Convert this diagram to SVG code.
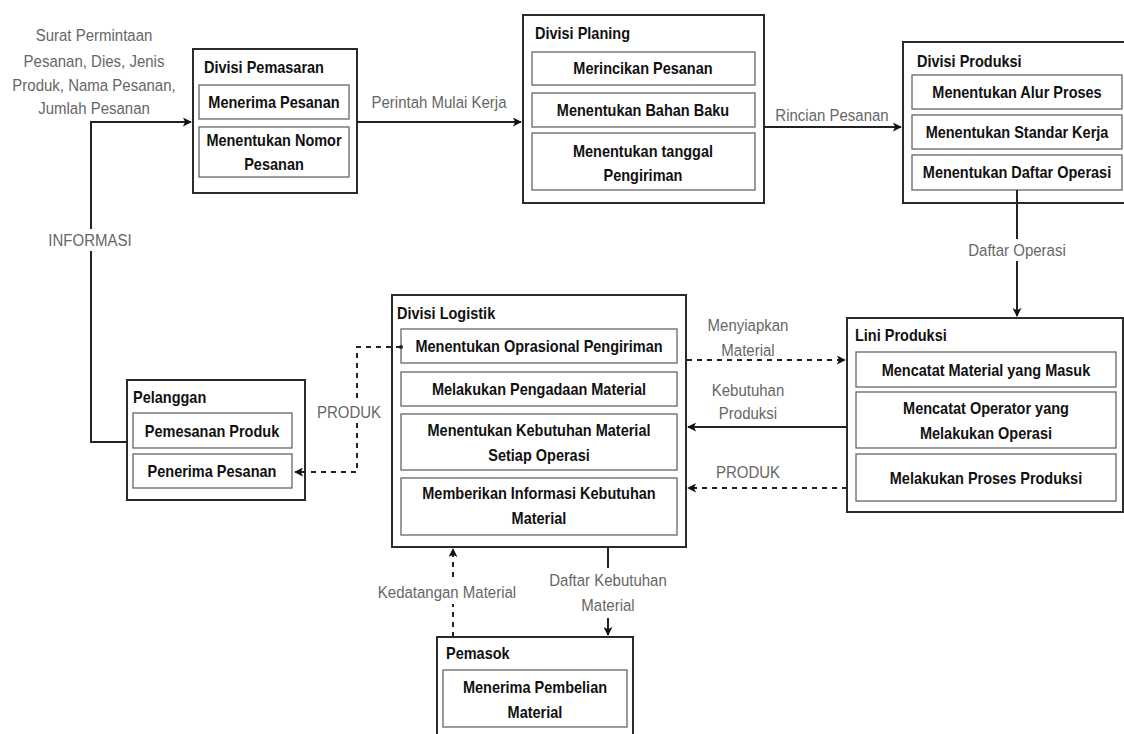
<svg xmlns="http://www.w3.org/2000/svg" width="1124" height="734" viewBox="0 0 1124 734">
<defs>
<marker id="arr" viewBox="0 0 10 10" refX="9" refY="5" markerWidth="9" markerHeight="9" markerUnits="userSpaceOnUse" orient="auto">
<path d="M0,0 L10,5 L0,10 L2.5,5 Z" fill="#111"/>
</marker>
<style>
text{font-family:"Liberation Sans",Arial,sans-serif;dominant-baseline:central;transform-box:fill-box;transform-origin:center;transform:scaleY(1.15)}
.outer{fill:#fff;stroke:#2b2b2b;stroke-width:2}
.inner{fill:#fff;stroke:#666;stroke-width:1.3}
.title{font-size:14.5px;font-weight:bold;fill:#111}
.item{font-size:14.5px;font-weight:bold;fill:#111;text-anchor:middle}
.lbl{font-size:15px;fill:#666;text-anchor:middle}
.line{fill:none;stroke:#222;stroke-width:2}
.dash{fill:none;stroke:#222;stroke-width:2;stroke-dasharray:5 5}
.bg{fill:#fff}
</style>
</defs>

<g id="divisi-pemasaran">
<rect class="outer" x="193" y="49" width="164" height="144"/>
<text class="title" x="204" y="67">Divisi Pemasaran</text>
<rect class="inner" x="199" y="85" width="150" height="34"/>
<text class="item" x="274" y="102">Menerima Pesanan</text>
<rect class="inner" x="199" y="127" width="150" height="50"/>
<text class="item" x="274" y="140">Menentukan Nomor</text>
<text class="item" x="274" y="164">Pesanan</text>
</g>

<g id="divisi-planing">
<rect class="outer" x="523" y="15" width="241" height="188"/>
<text class="title" x="535" y="33">Divisi Planing</text>
<rect class="inner" x="532" y="52" width="223" height="33"/>
<text class="item" x="643" y="68">Merincikan Pesanan</text>
<rect class="inner" x="532" y="93" width="223" height="34"/>
<text class="item" x="643" y="110">Menentukan Bahan Baku</text>
<rect class="inner" x="532" y="133" width="223" height="57"/>
<text class="item" x="643" y="151">Menentukan tanggal</text>
<text class="item" x="643" y="175">Pengiriman</text>
</g>

<g id="divisi-produksi">
<rect class="outer" x="903" y="42" width="224" height="161"/>
<text class="title" x="917" y="61">Divisi Produksi</text>
<rect class="inner" x="912" y="75" width="210" height="34"/>
<text class="item" x="1017" y="92">Menentukan Alur Proses</text>
<rect class="inner" x="912" y="115" width="210" height="34"/>
<text class="item" x="1017" y="132">Menentukan Standar Kerja</text>
<rect class="inner" x="912" y="155" width="210" height="35"/>
<text class="item" x="1017" y="172">Menentukan Daftar Operasi</text>
</g>

<g id="lini-produksi">
<rect class="outer" x="847" y="318" width="276" height="194"/>
<text class="title" x="855" y="335">Lini Produksi</text>
<rect class="inner" x="856" y="352" width="260" height="35"/>
<text class="item" x="986" y="370">Mencatat Material yang Masuk</text>
<rect class="inner" x="856" y="392" width="260" height="56"/>
<text class="item" x="986" y="408">Mencatat Operator yang</text>
<text class="item" x="986" y="433">Melakukan Operasi</text>
<rect class="inner" x="856" y="454" width="260" height="47"/>
<text class="item" x="986" y="478">Melakukan Proses Produksi</text>
</g>

<g id="divisi-logistik">
<rect class="outer" x="392" y="295" width="294" height="252"/>
<text class="title" x="397" y="313">Divisi Logistik</text>
<rect class="inner" x="401" y="329" width="276" height="34"/>
<text class="item" x="539" y="346">Menentukan Oprasional Pengiriman</text>
<rect class="inner" x="401" y="372" width="276" height="34"/>
<text class="item" x="539" y="389">Melakukan Pengadaan Material</text>
<rect class="inner" x="401" y="414" width="276" height="56"/>
<text class="item" x="539" y="430">Menentukan Kebutuhan Material</text>
<text class="item" x="539" y="455">Setiap Operasi</text>
<rect class="inner" x="401" y="478" width="276" height="57"/>
<text class="item" x="539" y="493">Memberikan Informasi Kebutuhan</text>
<text class="item" x="539" y="518">Material</text>
</g>

<g id="pelanggan">
<rect class="outer" x="127" y="380" width="178" height="120"/>
<text class="title" x="133" y="397">Pelanggan</text>
<rect class="inner" x="133" y="413" width="159" height="35"/>
<text class="item" x="212" y="431">Pemesanan Produk</text>
<rect class="inner" x="133" y="454" width="159" height="34"/>
<text class="item" x="212" y="471">Penerima Pesanan</text>
</g>

<g id="pemasok">
<rect class="outer" x="437" y="637" width="196" height="110"/>
<text class="title" x="446" y="653">Pemasok</text>
<rect class="inner" x="443" y="670" width="184" height="57"/>
<text class="item" x="535" y="687">Menerima Pembelian</text>
<text class="item" x="535" y="712">Material</text>
</g>

<g id="connectors">
<polyline class="line" points="127,442 91,442 91,122 191,122" marker-end="url(#arr)"/>
<line class="line" x1="357" y1="122" x2="521" y2="122" marker-end="url(#arr)"/>
<line class="line" x1="764" y1="127" x2="901" y2="127" marker-end="url(#arr)"/>
<line class="line" x1="1017" y1="190" x2="1017" y2="316" marker-end="url(#arr)"/>
<line class="dash" x1="687" y1="360" x2="845" y2="360" marker-end="url(#arr)"/>
<line class="line" x1="847" y1="427" x2="688" y2="427" marker-end="url(#arr)"/>
<line class="dash" x1="847" y1="488" x2="688" y2="488" marker-end="url(#arr)"/>
<polyline class="dash" points="401,347 357,347 357,472 295,472" marker-end="url(#arr)"/>
<circle cx="401" cy="347" r="2" fill="#222"/>
<line class="dash" x1="453" y1="637" x2="453" y2="549" marker-end="url(#arr)"/>
<line class="line" x1="608" y1="547" x2="608" y2="635" marker-end="url(#arr)"/>

<rect class="bg" x="48" y="229" width="86" height="22"/>
<text class="lbl" x="90" y="240">INFORMASI</text>
<text class="lbl" x="94" y="35">Surat Permintaan</text>
<text class="lbl" x="94" y="61">Pesanan, Dies, Jenis</text>
<text class="lbl" x="94" y="85">Produk, Nama Pesanan,</text>
<text class="lbl" x="94" y="108">Jumlah Pesanan</text>
<text class="lbl" x="439" y="102">Perintah Mulai Kerja</text>
<text class="lbl" x="832" y="115">Rincian Pesanan</text>
<rect class="bg" x="968" y="239" width="98" height="22"/>
<text class="lbl" x="1017" y="250">Daftar Operasi</text>
<text class="lbl" x="748" y="325">Menyiapkan</text>
<text class="lbl" x="748" y="350">Material</text>
<text class="lbl" x="748" y="390">Kebutuhan</text>
<text class="lbl" x="748" y="413">Produksi</text>
<text class="lbl" x="748" y="472">PRODUK</text>
<rect class="bg" x="316" y="401" width="66" height="22"/>
<text class="lbl" x="349" y="412">PRODUK</text>
<rect class="bg" x="374" y="580" width="146" height="24"/>
<text class="lbl" x="447" y="592">Kedatangan Material</text>
<rect class="bg" x="548" y="568" width="122" height="50"/>
<text class="lbl" x="608" y="580">Daftar Kebutuhan</text>
<text class="lbl" x="608" y="605">Material</text>
</g>
</svg>
